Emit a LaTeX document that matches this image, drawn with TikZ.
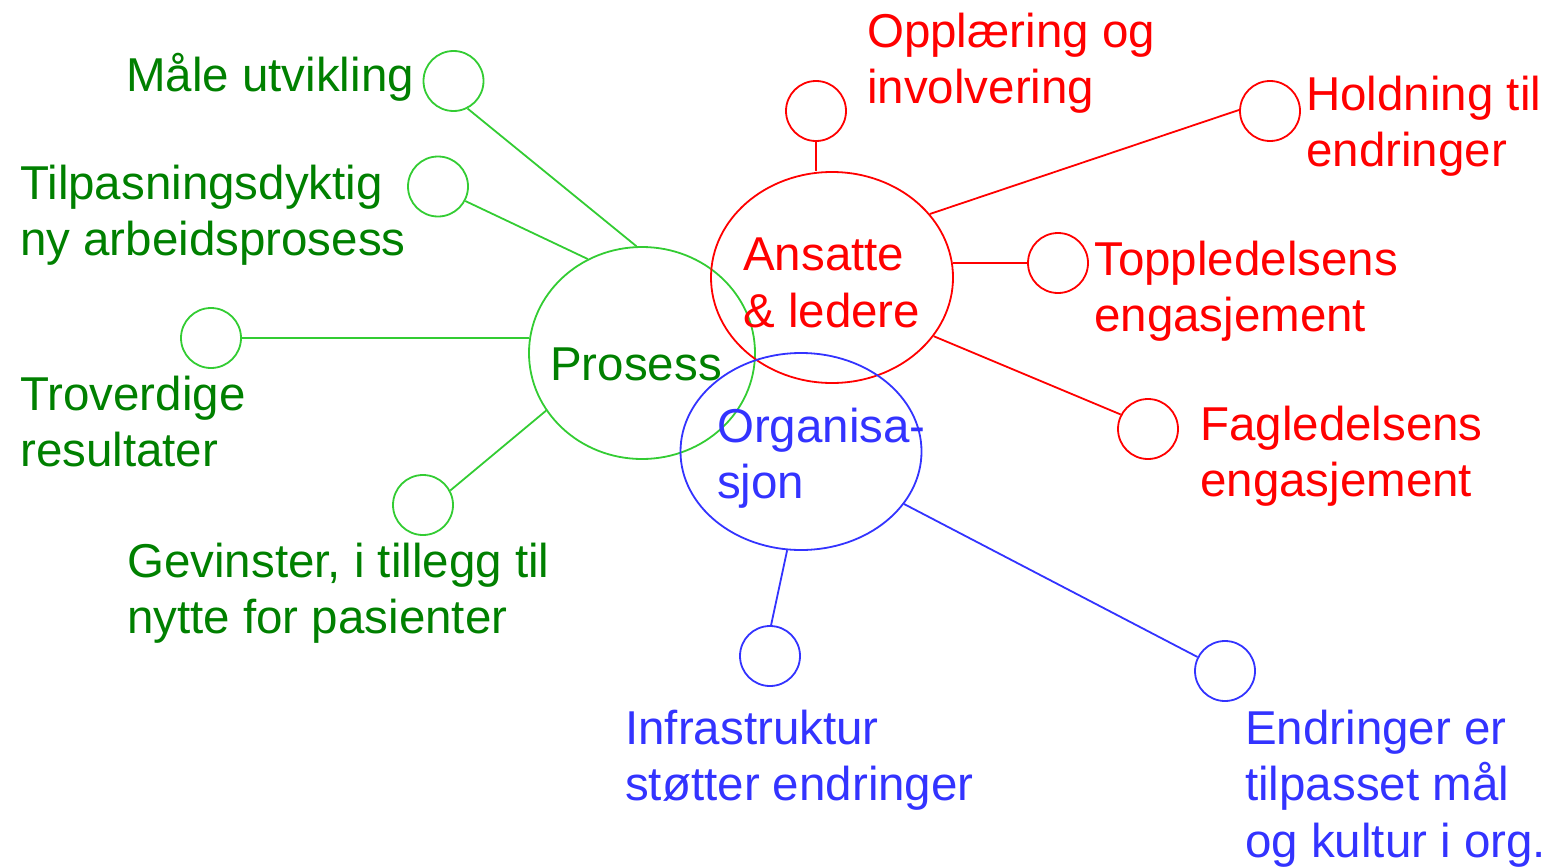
\documentclass[tikz,border=0pt]{standalone}
\usepackage{fontspec}
\setmainfont{Liberation Sans}
\usetikzlibrary{shapes.geometric}
\definecolor{gline}{RGB}{51,204,51}
\definecolor{gtext}{RGB}{0,128,0}
\definecolor{rcol}{RGB}{255,0,0}
\definecolor{bcol}{RGB}{51,51,255}
\tikzset{
  lbl/.style={anchor=base west, inner sep=0pt, align=left,
    font=\fontsize{47.5}{56.5}\selectfont},
  small/.style={circle, draw, minimum size=60pt, inner sep=0pt, line width=1.8pt},
  big/.style={ellipse, draw, inner sep=0pt, line width=1.8pt},
  conn/.style={line width=1.8pt}
}
\begin{document}
\begin{tikzpicture}[x=1pt,y=-1pt]
\useasboundingbox (0,0) rectangle (1552,867);
% big ellipses
\node[big, gline, minimum width=226pt, minimum height=212pt] (pro) at (642,353) {};
\node[big, rcol, minimum width=242pt, minimum height=211pt] (ans) at (832,277.5) {};
\node[big, bcol, minimum width=241pt, minimum height=197pt] (org) at (801,451.5) {};
% centre labels (base = last line)
\node[lbl, gtext] (tpro) at (550,380) {Prosess};
\node[lbl, rcol] (tans) at (743,327) {Ansatte\\\& ledere};
\node[lbl, bcol] (torg) at (717,498.5) {Organisa-\\sjon};
% green small circles
\node[small, gline] (male) at (453.5,81) {};
\node[small, gline] (tilp) at (438,186.5) {};
\node[small, gline] (trov) at (211,338) {};
\node[small, gline] (gevi) at (423,505) {};
% red small circles
\node[small, rcol] (oppl) at (816,111) {};
\node[small, rcol] (hold) at (1270,111) {};
\node[small, rcol] (topp) at (1058,263) {};
\node[small, rcol] (fagl) at (1148,429) {};
% blue small circles
\node[small, bcol] (infr) at (770,656) {};
\node[small, bcol] (endr) at (1225,671) {};
% connectors
\draw[conn, gline] (male.-63.4) -- (pro.93.3);
\draw[conn, gline] (tilp.-28) -- (pro.120);
\draw[conn, gline] (trov.east) -- (pro.172.4 |- trov.east);
\draw[conn, gline] (gevi.28) -- (pro.211.9);
\draw[conn, rcol] (oppl.south) -- (oppl.south |- ans.north);
\draw[conn, rcol] (hold.178) -- (ans.33.8);
\draw[conn, rcol] (topp.west) -- (ans.6.8 |- topp.west);
\draw[conn, rcol] (fagl.152) -- (ans.-30.1);
\draw[conn, bcol] (infr.88) -- (org.-98.7);
\draw[conn, bcol] (endr.153.4) -- (org.-27);
% outer labels (base = last line)
\node[lbl, gtext] (lmale) at (126,92) {Måle utvikling};
\node[lbl, gtext] (ltilp) at (20,255.5) {Tilpasningsdyktig\\ny arbeidsprosess};
\node[lbl, gtext] (ltrov) at (20,466.5) {Troverdige\\resultater};
\node[lbl, gtext] (lgevi) at (127,633.5) {Gevinster, i tillegg til\\nytte for pasienter};
\node[lbl, rcol] (loppl) at (867,103.5) {Opplæring og\\involvering};
\node[lbl, rcol] (lhold) at (1306,166.5) {Holdning til\\endringer};
\node[lbl, rcol] (ltopp) at (1094,331.5) {Toppledelsens\\engasjement};
\node[lbl, rcol] (lfagl) at (1200,496.5) {Fagledelsens\\engasjement};
\node[lbl, bcol] (linfr) at (625,800.5) {Infrastruktur\\støtter endringer};
\node[lbl, bcol] (lendr) at (1245,857) {Endringer er\\tilpasset mål\\og kultur i org.};
\end{tikzpicture}
\end{document}
